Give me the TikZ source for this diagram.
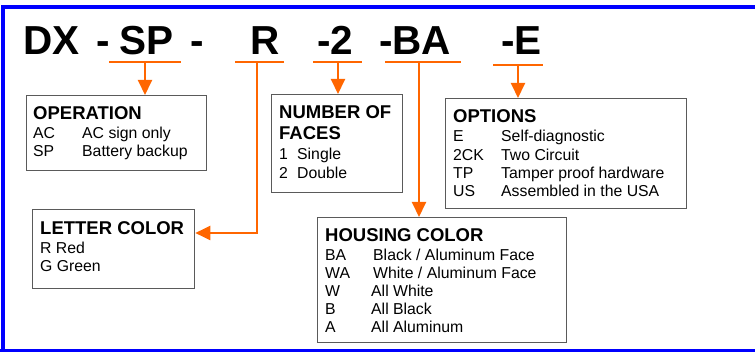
\documentclass[tikz,border=0pt]{standalone}
\usepackage{fontspec}
\setmainfont{Liberation Sans}
\usetikzlibrary{arrows.meta}
\definecolor{frameblue}{RGB}{0,0,255}
\definecolor{codeorange}{RGB}{255,102,0}
\definecolor{boxgray}{RGB}{90,90,90}
\tikzset{
  title/.style={anchor=base west,inner sep=0pt,font=\fontsize{40.5}{40}\selectfont\bfseries},
  head/.style={anchor=base west,inner sep=0pt,font=\fontsize{18.5}{20}\selectfont\bfseries},
  body/.style={anchor=base west,inner sep=0pt,font=\fontsize{15.8}{18}\selectfont},
  box/.style={draw=boxgray,line width=1.3pt,anchor=north west,inner sep=0pt},
  uline/.style={draw=codeorange,line width=2pt},
  conn/.style={draw=codeorange,line width=2pt,-{Triangle[length=15pt,width=14pt]}},
}
\begin{document}
\begin{tikzpicture}[x=1pt,y=-1pt]
\useasboundingbox (0,0) rectangle (755,352);
\draw[frameblue,line width=3.5pt] (3,360) -- (3,7) -- (760,7);
\draw[frameblue,line width=3pt] (0,351) -- (760,351);
% title
\node[title] (tdx) at (23,55) {DX};
\node[title] (td1) at (96,55) {-};
\node[title] (tsp) at (119,55) {SP};
\node[title] (td2) at (190,55) {-};
\node[title] (tr) at (250,55) {R};
\node[title] (t2) at (317,55) {-2};
\node[title] (tba) at (379,55) {-BA};
\node[title] (te) at (501,55) {-E};
% boxes
\node[box,minimum width=180pt,minimum height=75pt] (op) at (26,95) {};
\node[box,minimum width=131pt,minimum height=98pt] (nf) at (271,94) {};
\node[box,minimum width=241pt,minimum height=110pt] (opt) at (445,98) {};
\node[box,minimum width=162pt,minimum height=79pt] (lc) at (32,209) {};
\node[box,minimum width=249pt,minimum height=125pt] (hc) at (317,217) {};
% operation
\node[head] (oph) at (33,120) {OPERATION};
\node[body] (op1a) at (33,139) {AC};
\node[body] (op1b) at (82,139) {AC sign only};
\node[body] (op2a) at (33,157) {SP};
\node[body] (op2b) at (82,157) {Battery backup};
% number of faces
\node[head] (nfh1) at (279,119) {NUMBER OF};
\node[head] (nfh2) at (279,140) {FACES};
\node[body] (nf1a) at (279,160) {1};
\node[body] (nf1b) at (297,160) {Single};
\node[body] (nf2a) at (279,179) {2};
\node[body] (nf2b) at (297,179) {Double};
% options
\node[head] (opth) at (453,123) {OPTIONS};
\node[body] (o1a) at (453,142) {E};
\node[body] (o1b) at (501,142) {Self-diagnostic};
\node[body] (o2a) at (453,161) {2CK};
\node[body] (o2b) at (501,161) {Two Circuit};
\node[body] (o3a) at (453,179) {TP};
\node[body] (o3b) at (501,179) {Tamper proof hardware};
\node[body] (o4a) at (453,197) {US};
\node[body] (o4b) at (501,197) {Assembled in the USA};
% letter color
\node[head] (lch) at (40,235) {LETTER COLOR};
\node[body] (lc1) at (40,254) {R Red};
\node[body] (lc2) at (40,272) {G Green};
% housing color
\node[head] (hch) at (325,242) {HOUSING COLOR};
\node[body] (h1a) at (325,261) {BA};
\node[body] (h1b) at (373,261) {Black / Aluminum Face};
\node[body] (h2a) at (325,279) {WA};
\node[body] (h2b) at (373,279) {White / Aluminum Face};
\node[body] (h3a) at (325,297) {W};
\node[body] (h3b) at (371,297) {All White};
\node[body] (h4a) at (325,315) {B};
\node[body] (h4b) at (371,315) {All Black};
\node[body] (h5a) at (325,333) {A};
\node[body] (h5b) at (371,333) {All Aluminum};
% underlines
\draw[uline] (109,62) -- (181,62);
\draw[uline] (235,62) -- (284,62);
\draw[uline] (313,62) -- (362,62);
\draw[uline] (385,62) -- (461,62);
\draw[uline] (493,65) -- (543,65);
% connectors
\coordinate (usp) at (145,62);
\coordinate (ur) at (257,62);
\coordinate (rturn) at (257,233);
\coordinate (u2) at (338,62);
\coordinate (uba) at (419,62);
\coordinate (ue) at (518,65);
\draw[conn] (usp) -- (usp |- op.north);
\draw[conn] (ur) -- (rturn) -- (rturn -| lc.east);
\draw[conn] (u2) -- (u2 |- nf.north);
\draw[conn] (uba) -- (uba |- hc.north);
\draw[conn] (ue) -- (ue |- opt.north);
\end{tikzpicture}
\end{document}
